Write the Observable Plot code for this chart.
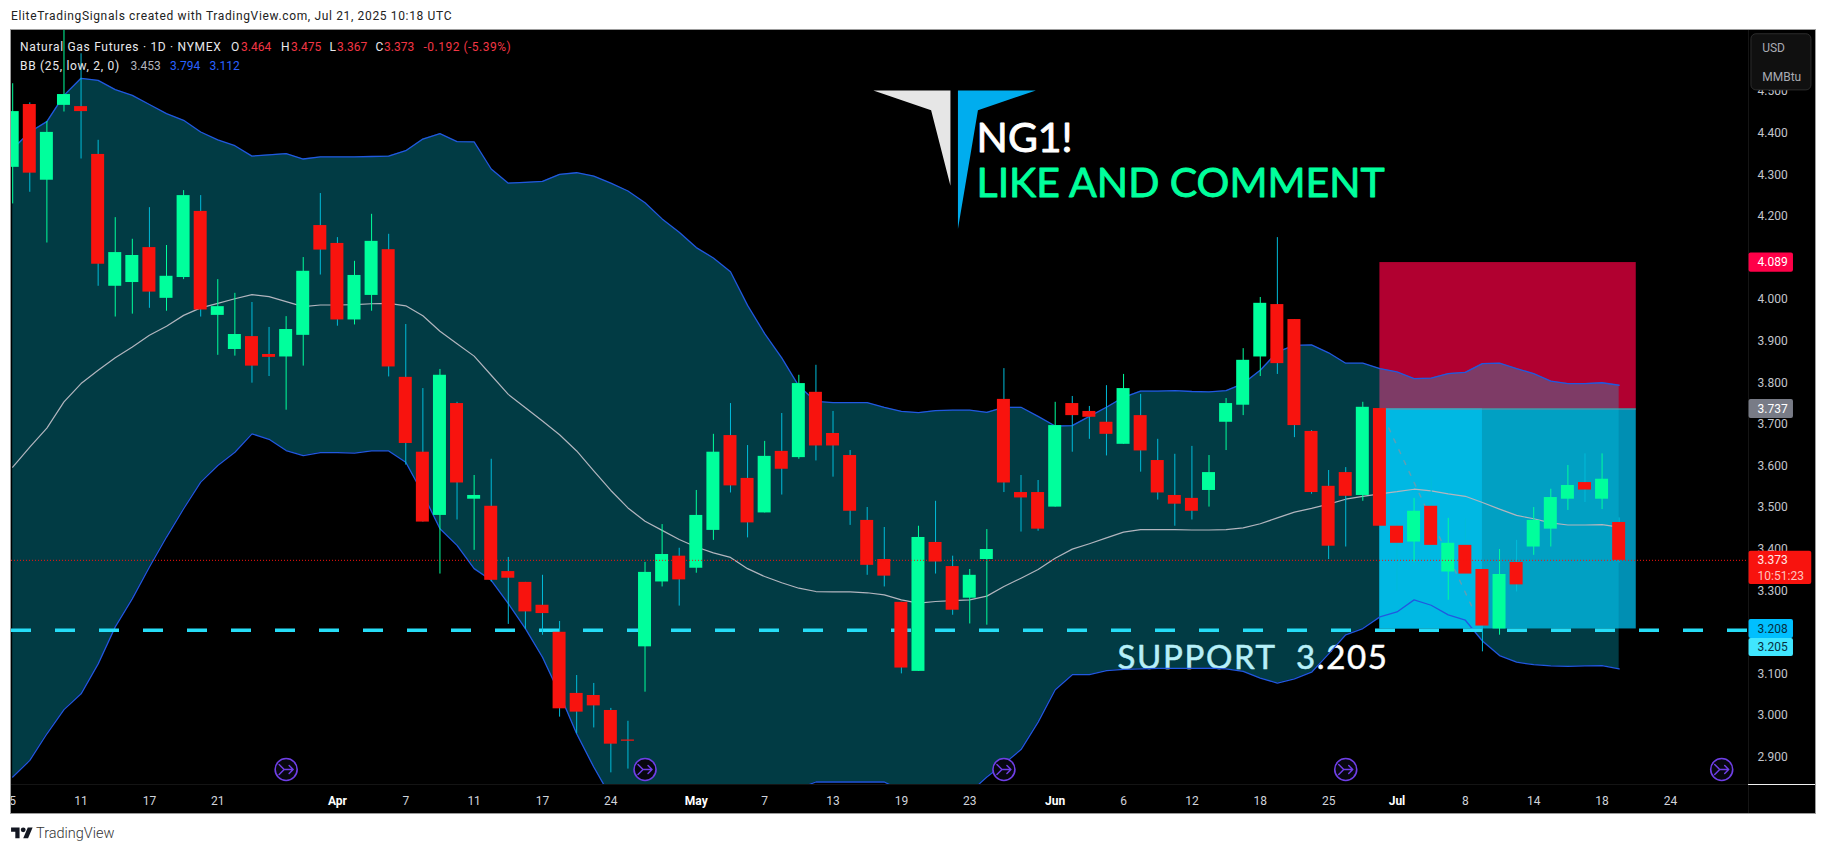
<!DOCTYPE html>
<html><head><meta charset="utf-8">
<script src="https://cdn.jsdelivr.net/npm/d3@7"></script>
<script src="https://cdn.jsdelivr.net/npm/@observablehq/plot@0.6"></script>
<style>
html,body{margin:0;padding:0;background:#fff;overflow:hidden;width:1826px;height:853px}
#head{position:absolute;left:11px;top:9px;font:12px Roboto,sans-serif;color:#222;letter-spacing:.65px;white-space:nowrap}
#wrap{position:absolute;left:10px;top:29px;width:1804px;height:783px;border:1px solid #9c9c9c;background:#000}
#wrap svg{display:block}
#legend{position:absolute;left:0;top:0;font:12px Roboto,sans-serif;white-space:nowrap}
#legend span{position:absolute}
#foot{position:absolute;left:11px;top:825px;display:flex;align-items:center;gap:3px;font:300 14.5px Roboto,sans-serif;color:#333}
</style></head><body>
<div id="head">EliteTradingSignals created with TradingView.com, Jul 21, 2025 10:18 UTC</div>
<div id="wrap"></div>
<div id="foot"><svg width="22" height="17" viewBox="0 0 36 28"><path d="M14 22H7V11H0V4h14v18zM28 22h-8l7.5-18h8L28 22z" fill="#131722"/><circle cx="20" cy="8" r="4" fill="#131722"/></svg><span>TradingView</span></div>
<script>
const opens=[4.318,4.469,4.287,4.467,4.464,4.349,4.032,4.041,4.125,4.003,4.053,4.212,3.962,3.880,3.911,3.868,3.862,3.914,4.178,4.135,3.951,4.010,4.120,3.813,3.633,3.481,3.750,3.520,3.503,3.346,3.320,3.265,3.200,3.053,3.048,3.012,2.941,3.165,3.321,3.383,3.354,3.445,3.673,3.570,3.487,3.635,3.620,3.777,3.678,3.625,3.469,3.375,3.272,3.106,3.416,3.358,3.282,3.375,3.760,3.536,3.536,3.501,3.750,3.731,3.705,3.652,3.721,3.613,3.529,3.522,3.541,3.705,3.746,3.862,3.988,3.952,3.683,3.551,3.584,3.529,3.738,3.455,3.417,3.503,3.345,3.409,3.351,3.208,3.368,3.405,3.448,3.520,3.560,3.520,3.464];
const highs=[4.519,4.473,4.428,4.660,4.591,4.383,4.197,4.145,4.221,4.130,4.262,4.250,4.048,4.015,3.993,3.933,3.959,4.101,4.255,4.149,4.092,4.205,4.157,3.940,3.786,3.832,3.753,3.577,3.616,3.380,3.320,3.337,3.226,3.096,3.077,3.017,2.986,3.368,3.459,3.402,3.541,3.676,3.750,3.649,3.659,3.726,3.818,3.842,3.731,3.637,3.500,3.452,3.272,3.455,3.515,3.383,3.351,3.447,3.834,3.577,3.565,3.753,3.767,3.743,3.793,3.820,3.772,3.664,3.628,3.647,3.625,3.762,3.882,4.005,4.149,3.952,3.685,3.589,3.596,3.753,3.738,3.467,3.522,3.573,3.474,3.473,3.351,3.399,3.421,3.500,3.544,3.601,3.629,3.629,3.475];
const lows=[4.230,4.258,4.136,4.451,4.338,4.032,3.958,3.965,3.979,3.972,4.048,3.958,3.866,3.864,3.799,3.815,3.734,3.840,4.059,3.936,3.939,3.972,3.814,3.602,3.465,3.340,3.470,3.397,3.321,3.219,3.207,3.193,2.996,2.956,2.970,2.862,2.871,3.056,3.309,3.263,3.342,3.421,3.535,3.427,3.487,3.530,3.616,3.612,3.573,3.457,3.337,3.309,3.100,3.106,3.340,3.241,3.220,3.217,3.536,3.441,3.443,3.501,3.633,3.664,3.624,3.652,3.585,3.518,3.455,3.470,3.501,3.637,3.721,3.815,3.820,3.668,3.532,3.375,3.405,3.515,3.455,3.297,3.369,3.405,3.277,3.337,3.153,3.193,3.297,3.385,3.405,3.493,3.512,3.495,3.367];
const closes=[4.452,4.304,4.402,4.493,4.452,4.085,4.113,4.106,4.018,4.056,4.250,3.975,3.983,3.916,3.840,3.861,3.928,4.068,4.119,3.951,4.058,4.140,3.838,3.654,3.465,3.818,3.559,3.529,3.325,3.330,3.249,3.245,3.016,3.008,3.023,2.931,2.938,3.344,3.387,3.326,3.481,3.633,3.552,3.463,3.623,3.592,3.798,3.648,3.648,3.491,3.361,3.335,3.114,3.428,3.369,3.253,3.337,3.399,3.559,3.523,3.448,3.697,3.721,3.717,3.676,3.786,3.636,3.535,3.508,3.491,3.584,3.750,3.854,3.991,3.846,3.697,3.536,3.407,3.527,3.741,3.455,3.414,3.491,3.409,3.414,3.340,3.215,3.339,3.314,3.469,3.524,3.553,3.542,3.568,3.373];
const bbUpper=[4.362,4.403,4.428,4.491,4.532,4.527,4.505,4.491,4.469,4.447,4.431,4.403,4.384,4.370,4.345,4.348,4.351,4.338,4.343,4.343,4.343,4.344,4.345,4.358,4.386,4.399,4.380,4.379,4.314,4.280,4.282,4.284,4.301,4.305,4.297,4.280,4.261,4.233,4.194,4.162,4.125,4.100,4.067,3.986,3.918,3.860,3.792,3.755,3.752,3.752,3.752,3.741,3.731,3.728,3.733,3.734,3.734,3.729,3.741,3.741,3.719,3.696,3.697,3.719,3.741,3.765,3.780,3.780,3.781,3.779,3.778,3.781,3.798,3.830,3.874,3.890,3.891,3.872,3.847,3.847,3.834,3.826,3.810,3.811,3.822,3.825,3.846,3.847,3.834,3.822,3.804,3.798,3.798,3.800,3.794];
const bbBasis=[3.597,3.645,3.691,3.754,3.798,3.830,3.860,3.886,3.914,3.936,3.962,3.980,3.991,4.002,4.012,4.007,3.995,3.983,3.987,3.987,3.988,3.990,3.991,3.985,3.961,3.924,3.894,3.864,3.818,3.772,3.740,3.708,3.675,3.636,3.588,3.541,3.499,3.467,3.445,3.423,3.405,3.391,3.380,3.353,3.334,3.319,3.306,3.298,3.297,3.297,3.295,3.290,3.278,3.270,3.274,3.276,3.278,3.287,3.310,3.330,3.351,3.378,3.400,3.413,3.427,3.441,3.447,3.447,3.447,3.446,3.446,3.447,3.451,3.461,3.475,3.489,3.498,3.508,3.520,3.527,3.533,3.538,3.544,3.540,3.533,3.527,3.512,3.496,3.481,3.473,3.463,3.458,3.458,3.459,3.453];
const bbLower=[2.852,2.892,2.956,3.014,3.052,3.124,3.213,3.281,3.357,3.429,3.497,3.561,3.601,3.633,3.677,3.664,3.637,3.625,3.632,3.632,3.631,3.636,3.636,3.609,3.533,3.449,3.409,3.353,3.325,3.269,3.209,3.140,3.052,2.956,2.876,2.804,2.770,2.740,2.720,2.710,2.700,2.710,2.720,2.740,2.770,2.800,2.825,2.840,2.840,2.840,2.840,2.840,2.820,2.800,2.800,2.820,2.815,2.852,2.884,2.918,2.984,3.062,3.098,3.098,3.108,3.111,3.112,3.113,3.113,3.113,3.114,3.112,3.106,3.090,3.078,3.088,3.104,3.148,3.194,3.209,3.237,3.249,3.278,3.265,3.242,3.229,3.179,3.144,3.128,3.122,3.119,3.118,3.119,3.120,3.112];
const priceTicks=[2.9,3.0,3.1,3.2,3.3,3.4,3.5,3.6,3.7,3.8,3.9,4.0,4.1,4.2,4.3,4.4,4.5];
const dayTickBars=[0,4,8,12,23,27,31,35,44,48,52,56,65,69,73,77,85,89,93,97];
const dayTickLabels=["5","11","17","21","7","11","17","24","7","13","19","23","6","12","18","25","8","14","18","24"];
const monthTickBars=[19,40,61,81];
const monthTickLabels=["Apr","May","Jun","Jul"];
const signalBars=[16,37,58,78,100];
const logoWhite=[[50.36,4.503],[54.87,4.503],[54.87,4.274],[53.74,4.455]];
const logoBlue=[[55.31,4.503],[59.87,4.503],[56.48,4.455],[55.31,4.170]];
const priceLast=3.373, stopPrice=4.089, entryPrice=3.737, targetPrice=3.208, supportPrice=3.205;

const bars=d3.range(closes.length);
const UP="#00ff9c", DOWN="#f8130e", DOWNWICK="#00bcd9";
const FONT="Roboto, sans-serif";
const badges=[
  {a:4.112,b:4.066,t:"4.089",y:4.089,f:"#ff0048",c:"#fff",e:104.2},
  {a:3.760,b:3.714,t:"3.737",y:3.737,f:"#787b86",c:"#fff",e:104.2},
  {a:3.395,b:3.315,t:"3.373",y:3.373,f:"#f8130e",c:"#ffe9e6",e:105.27},
  {a:3.231,b:3.185,t:"3.208",y:3.2075,f:"#00bfff",c:"#06303f",e:104.2},
  {a:3.185,b:3.142,t:"3.205",y:3.164,f:"#40e6ff",c:"#06303f",e:104.2}
];
const arrowIcon={draw(c){c.moveTo(-5,7);c.lineTo(0,2);c.moveTo(5,7);c.lineTo(0,2);c.lineTo(0,-7);c.moveTo(-4,-3);c.lineTo(0,-7);c.lineTo(4,-3);}};

const chart=Plot.plot({
  width:1804,height:783,marginTop:0,marginBottom:29,marginLeft:0,marginRight:67,
  style:{background:"#000",fontFamily:FONT,fontSize:"12px"},
  x:{domain:[-0.0702,101.568],axis:null},
  y:{domain:[2.834,4.647],axis:null},
  marks:[
    Plot.rect([0],{x1:80,x2:95,y1:entryPrice,y2:stopPrice,fill:"#b10030"}),
    Plot.rect([0],{x1:80,x2:95,y1:targetPrice,y2:entryPrice,fill:"#008fb3"}),
    Plot.text(["SUPPORT\u00a0\u00a03.205"],{x:64.65,y:3.136,text:d=>d,textAnchor:"start",fill:"#fff",stroke:"#fff",strokeWidth:0.5,fontSize:33,fontFamily:"Lato, sans-serif"}),
    Plot.areaY(bars,{x:d=>d,y1:d=>bbLower[d],y2:d=>bbUpper[d],fill:"rgb(3,202,233)",fillOpacity:0.292,clip:"frame"}),
    Plot.rect([0],{x1:80,x2:86,y1:targetPrice,y2:entryPrice,fill:"#00b8e3"}),
    Plot.ruleY([entryPrice],{x1:80,x2:95,stroke:"#7f8f9c",strokeWidth:1}),
    Plot.line([[80.52,3.691],[85.48,3.253]],{x:d=>d[0],y:d=>d[1],stroke:"#5f9fb5",strokeWidth:1.5,strokeDasharray:"4,8"}),
    Plot.lineY(bars,{x:d=>d,y:d=>bbBasis[d],stroke:"#b2b5be",strokeWidth:1.2,clip:"frame"}),
    Plot.lineY(bars,{x:d=>d,y:d=>bbUpper[d],stroke:"#2158e0",strokeWidth:1.3,clip:"frame"}),
    Plot.lineY(bars,{x:d=>d,y:d=>bbLower[d],stroke:"#2158e0",strokeWidth:1.3,clip:"frame"}),
    Plot.ruleY([supportPrice],{x1:-0.0702,x2:101.568,stroke:"#26ddf7",strokeWidth:3.6,strokeDasharray:"20,24"}),
    Plot.ruleX(bars,{x:d=>d,y1:d=>lows[d],y2:d=>highs[d],stroke:d=>closes[d]>=opens[d]?UP:DOWNWICK,strokeWidth:1,clip:"frame"}),
    Plot.rect(bars,{x1:d=>d-0.38,x2:d=>d+0.38,y1:d=>opens[d],y2:d=>closes[d],fill:d=>closes[d]>=opens[d]?UP:DOWN,inset:0,clip:"frame"}),
    Plot.ruleY([priceLast],{x1:-0.0702,x2:101.568,stroke:DOWN,strokeWidth:1,strokeDasharray:"1,2"}),
    Plot.line(logoWhite,{x:d=>d[0],y:d=>d[1],fill:"#e6e6e6",stroke:"none"}),
    Plot.line(logoBlue,{x:d=>d[0],y:d=>d[1],fill:"#00adee",stroke:"none"}),
    Plot.text(["NG1!"],{x:56.4,y:4.3865,text:d=>d,textAnchor:"start",fill:"#fff",stroke:"#fff",strokeWidth:0.9,fontSize:41,fontFamily:"Lato, sans-serif"}),
    Plot.text(["LIKE AND COMMENT"],{x:56.4,y:4.278,text:d=>d,textAnchor:"start",fill:UP,stroke:UP,strokeWidth:0.9,fontSize:41,fontFamily:"Lato, sans-serif"}),
    Plot.dot(signalBars,{x:d=>d,y:2.870,r:11,fill:"#07070f",stroke:"#6f3fe6",strokeWidth:1.6}),
    Plot.vector(signalBars,{x:d=>d,y:2.870,length:1,rotate:90,anchor:"start",shape:arrowIcon,stroke:"#6f3fe6",strokeWidth:1.5}),
    Plot.axisX({ticks:dayTickBars,tickFormat:d=>dayTickLabels[dayTickBars.indexOf(d)],tickSize:0,tickPadding:12,color:"#d1d4dc",fontSize:12}),
    Plot.axisX({ticks:monthTickBars,tickFormat:d=>monthTickLabels[monthTickBars.indexOf(d)],tickSize:0,tickPadding:12,color:"#fff",fontSize:12,fontWeight:"bold"}),
    Plot.axisY({anchor:"right",ticks:priceTicks,tickFormat:d3.format(".3f"),tickSize:0,tickPadding:9,color:"#c3c5cc",fontSize:12}),
    Plot.ruleX([101.57],{y1:2.76,y2:4.647,stroke:"#161616"}),
    Plot.ruleY([2.834],{x1:-0.0702,x2:101.57,stroke:"#141414"}),
    Plot.ruleY([2.834],{x1:101.57,x2:105.5,stroke:"#f0f0f0"}),
    Plot.rect(badges,{x1:101.6,x2:d=>d.e,y1:"a",y2:"b",fill:"f",rx:2}),
    Plot.text(badges,{x:102.1,y:"y",text:"t",fill:"c",textAnchor:"start",fontSize:12}),
    Plot.text(["10:51:23"],{x:102.1,y:3.336,text:d=>d,fill:"#ffc4bf",textAnchor:"start",fontSize:12}),
    Plot.rect([0],{x1:101.74,x2:105.25,y1:4.503,y2:4.638,fill:"#101010",stroke:"#2c2c2c",rx:5}),
    Plot.text(["USD"],{x:102.37,y:4.604,text:d=>d,fill:"#a8abb3",textAnchor:"start",fontSize:12}),
    Plot.text(["MMBtu"],{x:102.37,y:4.534,text:d=>d,fill:"#a8abb3",textAnchor:"start",fontSize:12})
  ]
});
document.getElementById("wrap").appendChild(chart);
for(const t of chart.querySelectorAll("text")) if(t.textContent.startsWith("SUPPORT")) t.style.letterSpacing="1.65px";

const legendRows=[
 [10,"Natural Gas Futures · 1D · NYMEX","#e8e9ec",0,.7],[10,"O","#e8e9ec",211,0],[10,"3.464","#f23645",221,0],[10,"H","#e8e9ec",261,0],[10,"3.475","#f23645",271,0],
 [10,"L","#e8e9ec",309.5,0],[10,"3.367","#f23645",317,0],[10,"C","#e8e9ec",355.6,0],[10,"3.373","#f23645",364,0],[10,"-0.192 (-5.39%)","#f23645",403.5,.5],
 [29,"BB (25, low, 2, 0)","#e8e9ec",0,.7],[29,"3.453","#b2b5be",110.5,0],[29,"3.794","#2962ff",150,0],[29,"3.112","#2962ff",189.5,0]
];
const legend=document.createElement("div");legend.id="legend";legend.style.left="9px";
for(const [t,s,c,l,sp] of legendRows){const e=document.createElement("span");e.textContent=s;e.style.color=c;e.style.left=l+"px";e.style.top=t+"px";e.style.letterSpacing=sp+"px";legend.appendChild(e);}
document.getElementById("wrap").appendChild(legend);
</script>
</body></html>
